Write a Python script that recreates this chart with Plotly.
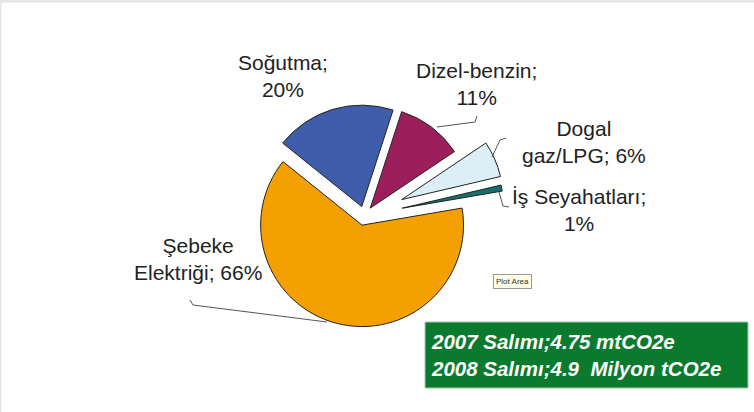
import plotly.graph_objects as go

W, H = 754, 412

# ---- data ----
labels = ["Dizel-benzin", "Dogal gaz/LPG", "İş Seyahatları", "Şebeke Elektriği", "Soğutma"]
values = [11, 6, 1, 66, 20]
label_text = ["Dizel-benzin;<br>11%", "Dogal<br>gaz/LPG; 6%", "İş Seyahatları;<br>1%",
              "Şebeke<br>Elektriği; 66%", "Soğutma;<br>20%"]
colors = ["#9C1F5C", "#DCEFF7", "#16706B", "#F4A000", "#3F5DAA"]
pulls = [0.095, 0.40, 0.38, 0.095, 0.095]
box_lines = ["2007 Salımı;4.75 mtCO2e", "2008 Salımı;4.9  Milyon tCO2e"]

# label centres (pixels)
label_pos = [(477, 84), (584, 142), (579, 210), (198, 259), (283, 76)]
# leader lines (pixel polylines)
leaders = [
    [(437, 127), (475, 122), (477, 116)],
    [(492, 157), (500, 140), (506, 138)],
    [(499, 192), (503, 206), (509, 207)],
    [(190, 300), (193, 305), (327, 322)],
]


def px(x):
    return x / W


def py(y):
    return 1 - y / H


cx, cy, side = 364.5, 215.8, 284
fig = go.Figure(go.Pie(
    labels=labels, values=values, sort=False, direction="clockwise", rotation=18,
    pull=pulls, textinfo="none", hoverinfo="label+value",
    marker=dict(colors=colors, line=dict(color="#222222", width=1)),
    domain=dict(x=[px(cx - side / 2), px(cx + side / 2)],
                y=[py(cy + side / 2), py(cy - side / 2)]),
    showlegend=False,
))

annotations = []
for t, (x, y) in zip(label_text, label_pos):
    annotations.append(dict(x=px(x), y=py(y), xref="paper", yref="paper", text=t,
                            showarrow=False, xanchor="center", yanchor="middle",
                            font=dict(family="Liberation Sans, Arial", size=21, color="#222222")))

shapes = []
for pl in leaders:
    for (x0, y0), (x1, y1) in zip(pl[:-1], pl[1:]):
        shapes.append(dict(type="line", xref="paper", yref="paper",
                           x0=px(x0), y0=py(y0), x1=px(x1), y1=py(y1),
                           line=dict(color="#555555", width=1)))

# green info box
shapes.append(dict(type="rect", xref="paper", yref="paper",
                   x0=px(425), x1=px(748), y0=py(388), y1=py(322),
                   fillcolor="#0B7A2E", line=dict(color="#A8C8A8", width=1)))
annotations.append(dict(x=px(429), y=py(355), xref="paper", yref="paper",
                        text="<br>".join("<b><i>%s</i></b>" % s for s in box_lines),
                        showarrow=False, xanchor="left", yanchor="middle", align="left",
                        font=dict(family="Liberation Sans, Arial", size=20.5, color="white")))

# "Plot Area" tooltip artifact
annotations.append(dict(x=px(512), y=py(281), xref="paper", yref="paper", text="Plot Area",
                        showarrow=False, xanchor="center", yanchor="middle",
                        font=dict(family="Liberation Sans, Arial", size=8, color="#333"),
                        bgcolor="#FFFFE6", bordercolor="#999999", borderwidth=1, borderpad=2))

# light gray frame on top and left
shapes.append(dict(type="line", xref="paper", yref="paper", x0=0, x1=1, y0=py(1), y1=py(1),
                   line=dict(color="#E6E6E6", width=3)))
shapes.append(dict(type="line", xref="paper", yref="paper", x0=px(0.5), x1=px(0.5), y0=0, y1=1,
                   line=dict(color="#E6E6E6", width=2)))

fig.update_layout(width=W, height=H, margin=dict(l=0, r=0, t=0, b=0),
                  paper_bgcolor="white", plot_bgcolor="white",
                  annotations=annotations, shapes=shapes)
fig.write_html("out.html")
